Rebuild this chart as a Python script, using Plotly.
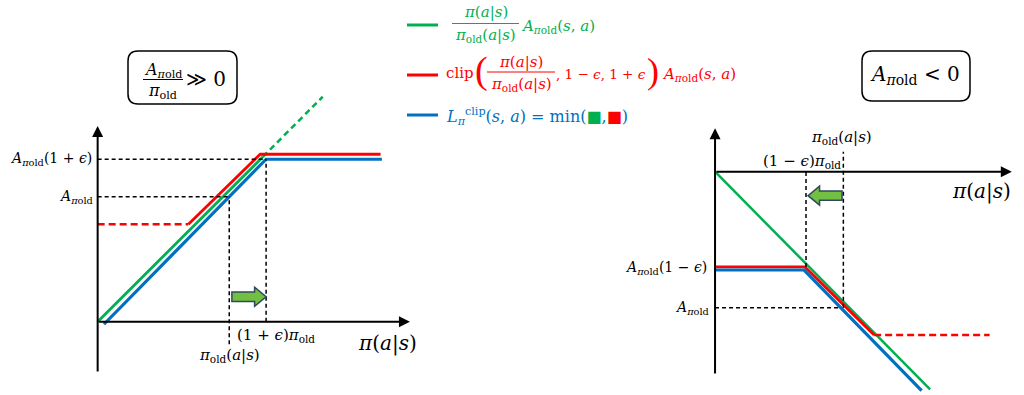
import plotly.graph_objects as go

W, H = 1024, 395
GREEN, RED, BLUE = "#00b050", "#ff0000", "#0070c0"
ARROW_FILL, ARROW_EDGE = "#72bf44", "#2e4a5c"
FONT = "DejaVu Serif"

# ---------------- data: left panel (A_old > 0), x = pi/pi_old, y = objective / A_old
L_green_x = [0.0, 1.256]
L_green_y = [0.0, 1.32]
L_green_dash_x = [1.256, 1.71]
L_green_dash_y = [1.32, 1.80]
L_red_dash_x = [0.0, 0.69]
L_red_dash_y = [0.78, 0.78]
L_red_x = [0.69, 1.235, 2.15]
L_red_y = [0.78, 1.34, 1.34]
L_blue_x = [0.048, 1.28, 2.16]
L_blue_y = [-0.02, 1.30, 1.30]
L_ref_h = [(0.0, 1.28, 1.30), (0.0, 1.0, 1.0)]      # (x0, x1, y)
L_ref_v = [(1.28, 0.0, 1.30), (1.0, -0.18, 1.0)]    # (x, y0, y1)
L_arrow = (1.02, 1.28, 0.20)                        # from, to, y

# ---------------- data: right panel (A_old < 0)
R_green_x = [0.0, 1.676]
R_green_y = [0.0, -1.60]
R_red_x = [0.0, 0.70, 1.24]
R_red_y = [-0.70, -0.70, -1.20]
R_red_dash_x = [1.24, 2.14]
R_red_dash_y = [-1.20, -1.20]
R_blue_x = [0.0, 0.694, 1.61]
R_blue_y = [-0.723, -0.723, -1.61]
R_ref_h = [(0.0, 0.98, -1.0)]
R_ref_v = [(0.709, -0.70, 0.0), (1.0, -1.0, 0.147)]
R_arrow = (0.99, 0.725, -0.176)

# axis ranges (both panels overlay the full figure)
LX = [-0.742, 7.039]; LY = [-0.586, 2.574]
RX = [-5.573, 2.408]; RY = [-1.642, 1.2625]
LXS = W / (LX[1] - LX[0]); LYS = H / (LY[1] - LY[0])
RXS = W / (RX[1] - RX[0]); RYS = H / (RY[1] - RY[0])

fig = go.Figure()

def line(xs, ys, color, width, dash="solid", side="L"):
    fig.add_trace(go.Scatter(x=xs, y=ys, mode="lines", showlegend=False, hoverinfo="skip",
                             line=dict(color=color, width=width, dash=dash),
                             xaxis="x" if side == "L" else "x2",
                             yaxis="y" if side == "L" else "y2"))

# left panel lines
line(L_red_dash_x, L_red_dash_y, RED, 2.5, "7px,4px")
line(L_green_dash_x, L_green_dash_y, GREEN, 2.5, "6px,4px")
line(L_green_x, L_green_y, GREEN, 2.8)
line(L_red_x, L_red_y, RED, 2.8)
line(L_blue_x, L_blue_y, BLUE, 3.2)
# right panel lines
line(R_green_x, R_green_y, GREEN, 2.5, side="R")
line(R_red_x, R_red_y, RED, 2.8, side="R")
line(R_red_dash_x, R_red_dash_y, RED, 2.5, "7px,4px", side="R")
line(R_blue_x, R_blue_y, BLUE, 3.2, side="R")

shapes = []
annos = []

def ref_lines(hs, vs, xr, yr):
    for x0, x1, y in hs:
        shapes.append(dict(type="line", xref=xr, yref=yr, x0=x0, x1=x1, y0=y, y1=y,
                           line=dict(color="black", width=1.5, dash="4px,3px")))
    for x, y0, y1 in vs:
        shapes.append(dict(type="line", xref=xr, yref=yr, x0=x, x1=x, y0=y0, y1=y1,
                           line=dict(color="black", width=1.5, dash="4px,3px")))

ref_lines(L_ref_h, L_ref_v, "x", "y")
ref_lines(R_ref_h, R_ref_v, "x2", "y2")

def block_arrow(spec, xr, yr, xs, ys):
    x0, x1, y = spec
    d = 1 if x1 > x0 else -1
    bh, hh, hl = 4.7 / ys, 9.5 / ys, 11.5 / xs
    xb = x1 - d * hl
    path = (f"M{x0},{y-bh} L{xb},{y-bh} L{xb},{y-hh} L{x1},{y} L{xb},{y+hh} "
            f"L{xb},{y+bh} L{x0},{y+bh} Z")
    shapes.append(dict(type="path", xref=xr, yref=yr, path=path, fillcolor=ARROW_FILL,
                       line=dict(color=ARROW_EDGE, width=1.5)))

block_arrow(L_arrow, "x", "y", LXS, LYS)
block_arrow(R_arrow, "x2", "y2", RXS, RYS)

def axis_arrow(x, y, ax, ay, xr, yr):
    annos.append(dict(x=x, y=y, ax=ax, ay=ay, xref=xr, yref=yr, axref=xr, ayref=yr,
                      showarrow=True, arrowhead=2, arrowsize=1.1, arrowwidth=2,
                      arrowcolor="black", text=""))

# left axes
axis_arrow(0, 1.566, 0, -0.41, "x", "y")
axis_arrow(2.373, 0, 0, 0, "x", "y")
# right axes
axis_arrow(0, 0.32, 0, -1.495, "x2", "y2")
axis_arrow(2.313, 0, 0, 0, "x2", "y2")

AOLD = "<i>A</i><sub><i>π</i>old</sub>"
POLD = "<i>π</i><sub>old</sub>"

def dtext(x, y, s, xr, yr, size=15, xanchor="center", xshift=0, color="black"):
    annos.append(dict(x=x, y=y, xref=xr, yref=yr, text=s, showarrow=False,
                      xanchor=xanchor, yanchor="middle", xshift=xshift,
                      font=dict(family=FONT, size=size, color=color)))

# left labels
dtext(0, 1.30, AOLD + "(1 + <i>ϵ</i>)", "x", "y", 14, "right", -4)
dtext(0, 1.0, AOLD, "x", "y", 14, "right", -3)
dtext(1.0, -0.266, POLD + "(<i>a</i>|<i>s</i>)", "x", "y", 15)
dtext(1.355, -0.106, "(1 + <i>ϵ</i>)" + POLD, "x", "y", 15)
dtext(2.2, -0.17, "<i>π</i>(<i>a</i>|<i>s</i>)", "x", "y", 20)
# right labels
dtext(0, -0.71, AOLD + "(1 − <i>ϵ</i>)", "x2", "y2", 14, "right", -6)
dtext(0, -1.0, AOLD, "x2", "y2", 14, "right", -4)
dtext(0.988, 0.25, POLD + "(<i>a</i>|<i>s</i>)", "x2", "y2", 15)
dtext(0.677, 0.0735, "(1 − <i>ϵ</i>)" + POLD, "x2", "y2", 15)
dtext(2.08, -0.147, "<i>π</i>(<i>a</i>|<i>s</i>)", "x2", "y2", 20)

# ---------------- paper-space decorations (pixel helpers)
def px(x): return x / W
def py(y): return 1 - y / H

def ptext(x, y, s, size=16, color="black", xanchor="center", family=FONT):
    annos.append(dict(x=px(x), y=py(y), xref="paper", yref="paper", text=s, showarrow=False,
                      xanchor=xanchor, yanchor="middle",
                      font=dict(family=family, size=size, color=color)))

def pline(x0, y0, x1, y1, color, width):
    shapes.append(dict(type="line", xref="paper", yref="paper", x0=px(x0), x1=px(x1),
                       y0=py(y0), y1=py(y1), line=dict(color=color, width=width)))

def rrect(x0, y0, x1, y1, r):
    pts = [
        f"M{px(x0+r)},{py(y0)}", f"L{px(x1-r)},{py(y0)}", f"Q{px(x1)},{py(y0)} {px(x1)},{py(y0+r)}",
        f"L{px(x1)},{py(y1-r)}", f"Q{px(x1)},{py(y1)} {px(x1-r)},{py(y1)}",
        f"L{px(x0+r)},{py(y1)}", f"Q{px(x0)},{py(y1)} {px(x0)},{py(y1-r)}",
        f"L{px(x0)},{py(y0+r)}", f"Q{px(x0)},{py(y0)} {px(x0+r)},{py(y0)} Z"]
    shapes.append(dict(type="path", xref="paper", yref="paper", path=" ".join(pts),
                       line=dict(color="black", width=1.5), fillcolor="rgba(0,0,0,0)"))

# condition boxes
rrect(128, 51, 237, 104, 10)
ptext(162.5, 70, AOLD, 16)
pline(143, 79.5, 183, 79.5, "black", 1)
ptext(162.5, 91, POLD, 16)
ptext(206, 79, "≫ 0", 20)

rrect(862, 51, 970, 101, 10)
ptext(915, 75, AOLD + " &lt; 0", 20)

# legend
pline(407, 25, 438, 25, GREEN, 3)
pline(407, 75, 438, 75, RED, 3)
pline(407, 115, 438, 115, BLUE, 3)

ptext(485.5, 12.5, "<i>π</i>(<i>a</i>|<i>s</i>)", 15, GREEN)
pline(452, 23.5, 519, 23.5, GREEN, 1)
ptext(485.5, 35, POLD + "(<i>a</i>|<i>s</i>)", 15, GREEN)
ptext(519, 26, AOLD + "(<i>s</i>, <i>a</i>)", 15, GREEN, "left")

ptext(444, 73, "clip", 15, RED, "left")
ptext(481, 71, "(", 38, RED, family="Liberation Serif")
ptext(521, 62, "<i>π</i>(<i>a</i>|<i>s</i>)", 15, RED)
pline(487, 72, 555, 72, RED, 1)
ptext(521, 84, POLD + "(<i>a</i>|<i>s</i>)", 15, RED)
ptext(554, 74, ", 1 − <i>ϵ</i>, 1 + <i>ϵ</i>", 13.5, RED, "left")
ptext(653, 71, ")", 36, RED, family="Liberation Serif")
ptext(660, 74, AOLD + "(<i>s</i>, <i>a</i>)", 15, RED, "left")

ptext(444, 116, "<i>L</i><sub><i>π</i></sub><sup>clip</sup>(<i>s</i>, <i>a</i>) = min("
      f"<span style='color:{GREEN}'>■</span>,<span style='color:{RED}'>■</span>)", 16, BLUE, "left")

fig.update_layout(
    width=W, height=H, margin=dict(l=0, r=0, t=0, b=0),
    paper_bgcolor="white", plot_bgcolor="white", showlegend=False,
    xaxis=dict(range=LX, domain=[0, 1], visible=False, fixedrange=True),
    yaxis=dict(range=LY, domain=[0, 1], visible=False, fixedrange=True),
    xaxis2=dict(range=RX, domain=[0, 1], visible=False, overlaying="x", anchor="y2", fixedrange=True),
    yaxis2=dict(range=RY, domain=[0, 1], visible=False, overlaying="y", anchor="x2", fixedrange=True),
    shapes=shapes, annotations=annos,
)
fig.write_html("out.html")
